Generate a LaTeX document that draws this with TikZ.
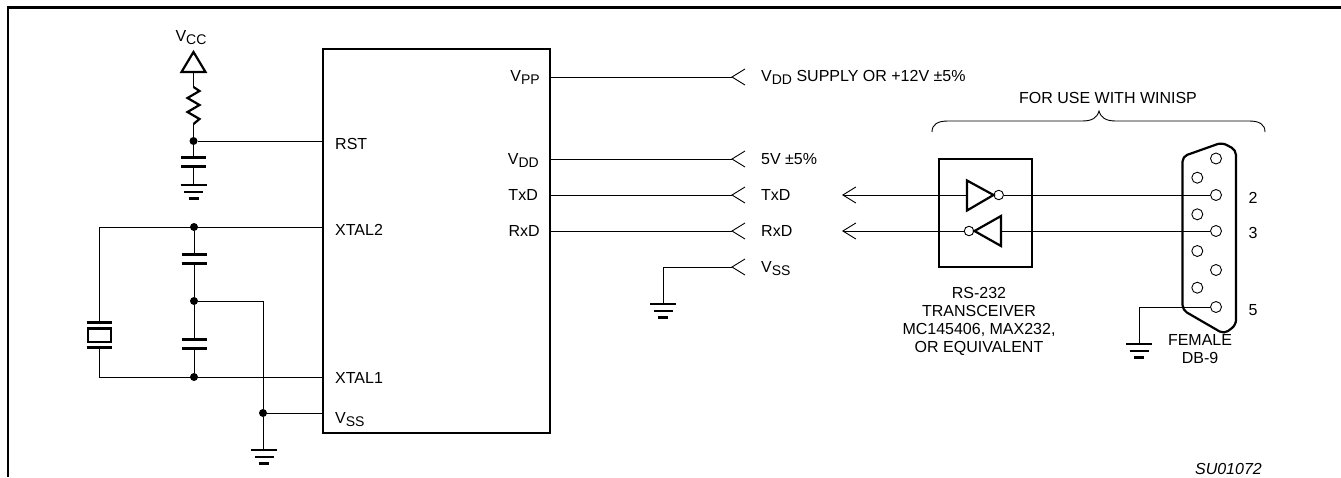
\documentclass[tikz,border=0pt]{standalone}
\usepackage{fontspec}
\setmainfont{Liberation Sans}
\usetikzlibrary{arrows.meta}

\newcommand{\subpin}[1]{\lower3pt\hbox{\fontsize{14}{14}\selectfont #1}}

\tikzset{
    wire/.style = {line width=0.9pt},
    heavy/.style = {line width=2.2pt},
    dotnode/.style = {shape=circle, fill=black, inner sep=0pt, minimum size=8pt},
    hole/.style = {shape=circle, draw, fill=white, inner sep=0pt, minimum size=11pt, line width=0.9pt},
    bubble/.style = {shape=circle, draw, fill=white, inner sep=0pt, minimum size=9.5pt, line width=0.9pt},
    label/.style = {anchor=base west, inner sep=0pt, font=\fontsize{16}{18}\selectfont},
    labelr/.style = {anchor=base east, inner sep=0pt, font=\fontsize{16}{18}\selectfont},
    labelc/.style = {anchor=base, inner sep=0pt, align=center, font=\fontsize{16}{17.7}\selectfont},
    barb/.style = {-{Straight Barb[length=13pt,width=16pt,line width=0.9pt]}},
    ground/.pic = {
        \draw[heavy] (-13,0) -- (13,0);
        \draw[heavy] (-9.5,7) -- (9.5,7);
        \draw[heavy] (-5,13.5) -- (5,13.5);
    },
    chevron/.pic = {
        \draw[wire] (13,-8) -- (0,0) -- (13,8);
    },
    capacitor/.pic = {
        \draw[heavy] (-12.5,0) -- (12.5,0);
        \draw[heavy] (-12.5,9) -- (12.5,9);
    },
}

\begin{document}
\begin{tikzpicture}[x=1pt,y=-1pt,line cap=butt]
    \useasboundingbox (0,0) rectangle (1341,477);

    % frame
    \draw[line width=2.6pt] (8,477) -- (8,7.5) -- (1341,7.5);

    % chip
    \node[draw,heavy,minimum width=227pt,minimum height=384.5pt,inner sep=0pt] (chip) at (436.5,241) {};

    \node[label] (rst) at (335,149) {RST};
    \node[label] (xtal2) at (335,235) {XTAL2};
    \node[label] (xtal1) at (335,383) {XTAL1};
    \node[label] (vssl) at (335,423) {V\subpin{SS}};
    \node[labelr] (vpp) at (540,81) {V\subpin{PP}};
    \node[labelr] (vddl) at (539,164) {V\subpin{DD}};
    \node[labelr] (txdl) at (538,200) {TxD};
    \node[labelr] (rxdl) at (540,236) {RxD};

    % junctions
    \node[dotnode] (jrst) at (193.5,141) {};
    \node[dotnode] (jx2) at (194,227) {};
    \node[dotnode] (jmid) at (194,301) {};
    \node[dotnode] (jx1) at (194,377) {};
    \node[dotnode] (jvss) at (263,413) {};

    % reset network
    \coordinate (vcc) at (193.5,72);
    \node[labelc] (vcclabel) at (191,41) {V\subpin{CC}};
    \draw[heavy,line join=miter] (181.5,72) -- (193.5,52) -- (205.5,72) -- cycle;
    \draw[wire] (vcc) -- (193.5,87);
    \draw[heavy,line join=miter] (193.5,87) -- (199.5,91) -- (187.5,98) -- (199.5,105)
        -- (187.5,112) -- (199.5,119) -- (193.5,124);
    \draw[wire] (193.5,124) -- (jrst);
    \draw[wire] (jrst) -- (jrst -| chip.west);
    \draw[wire] (jrst) -- (193.5,157.5);
    \pic at (193.5,157.5) {capacitor};
    \draw[wire] (193.5,166.5) -- (193.5,185);
    \pic at (193.5,185) {ground};

    % crystal side
    \coordinate (xl) at (99,227);
    \coordinate (xb) at (99,377);
    \draw[wire] (jx2 -| chip.west) -- (xl) -- (99,322);
    \draw[wire] (99,348) -- (xb) -- (jx1 -| chip.west);
    \draw[heavy] (86.5,322.5) -- (111.5,322.5);
    \draw[heavy] (88,328.5) rectangle (111,342);
    \draw[heavy] (86.5,347.5) -- (111.5,347.5);
    \draw[wire] (jx2) -- (194,254.5);
    \pic at (194,254.5) {capacitor};
    \draw[wire] (194,263.5) -- (jmid) -- (194,339.5);
    \pic at (194,339.5) {capacitor};
    \draw[wire] (194,348.5) -- (jx1);
    \draw[wire] (jmid) -- (263,301) -- (jvss);
    \draw[wire] (jvss) -- (jvss -| chip.west);
    \draw[wire] (jvss) -- (263,450);
    \pic at (264,450) {ground};

    % right side pins
    \foreach \name/\ypos in {pa/77,pb/159,pc/195,pd/231} {
        \coordinate (\name) at (732,\ypos);
        \draw[wire] (chip.east |- \name) -- (\name);
        \pic at (\name) {chevron};
    }
    \coordinate (pe) at (732,267);
    \draw[wire] (pe) -- (663,267) -- (663,304);
    \pic at (pe) {chevron};
    \pic at (663,304) {ground};

    \node[label] (supply) at (761,81) {V\subpin{DD} SUPPLY OR +12V ±5\%};
    \node[label] (fivev) at (761,164) {5V ±5\%};
    \node[label] (txd) at (761,200) {TxD};
    \node[label] (rxd) at (761,236) {RxD};
    \node[label] (vss) at (761,272) {V\subpin{SS}};

    % transceiver
    \node[draw,heavy,minimum width=93pt,minimum height=108pt,inner sep=0pt] (box) at (985.5,213) {};
    \node[bubble] (bubt) at (998.7,195) {};
    \node[bubble] (bubb) at (969,231) {};
    \coordinate (tat) at (842,195);
    \coordinate (tab) at (842,231);
    \draw[heavy,line join=miter] (967,180.5) -- (993.5,195) -- (967,210.5) -- cycle;
    \draw[heavy,line join=miter] (1001,216) -- (974.5,231) -- (1001,246) -- cycle;
    \draw[wire,barb] (967,195) -- (tat);
    \draw[wire,barb] (bubb) -- (tab);

    \node[labelc] (rs) at (979,352) {RS-232\\TRANSCEIVER\\MC145406, MAX232,\\OR EQUIVALENT};

    % brace
    \draw[wire] (932,132) .. controls (932,124) and (938,121) .. (948,121) -- (1082,121)
        .. controls (1092,121) and (1097,118) .. (1099,111)
        .. controls (1101,118) and (1106,121) .. (1116,121) -- (1249,121)
        .. controls (1259,121) and (1265,124) .. (1265,132);
    \node[labelc] (winisp) at (1108,103) {FOR USE WITH WINISP};

    % connector
    \draw[heavy,rounded corners=5pt] (1182.5,310) -- (1182.5,156.5) -- (1222,142.5)
        -- (1236,150) -- (1236,325) -- (1224,334) -- cycle;
    \foreach \name/\xpos/\ypos in {ha/1216/158.5,hb/1216/195,hc/1216/231,hd/1216/270,he/1216/307,
        hf/1197.3/177.7,hg/1197.3/214.3,hh/1197.3/251,hi/1197.3/287.7} {
        \node[hole] (\name) at (\xpos,\ypos) {};
    }
    \draw[wire] (bubt) -- (hb);
    \draw[wire] (1001,231) -- (hc);
    \coordinate (gd) at (1139,307);
    \draw[wire] (he) -- (gd) -- (1139,344);
    \pic at (1139,344) {ground};

    \node[labelc] (two) at (1253,203) {2};
    \node[labelc] (three) at (1253,238) {3};
    \node[labelc] (five) at (1253,315) {5};
    \node[labelc] (db) at (1200,363) {FEMALE\\DB-9};

    \node[anchor=base east,inner sep=0pt,font=\fontsize{16}{16}\selectfont\itshape] (su) at (1262,474) {SU01072};
\end{tikzpicture}
\end{document}
